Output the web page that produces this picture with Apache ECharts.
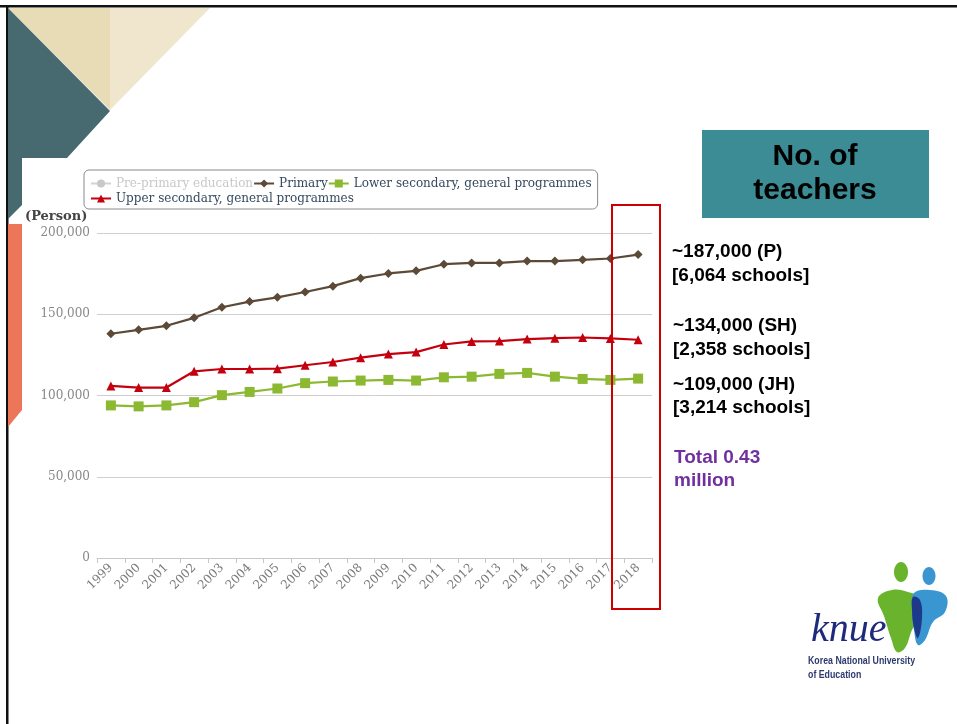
<!DOCTYPE html>
<html><head><meta charset="utf-8">
<script src="https://cdn.jsdelivr.net/npm/echarts@6/dist/echarts.min.js"></script>
<style>html,body{margin:0;padding:0;background:#fff}#c{width:957px;height:724px}</style>
</head><body><div id="c"></div>
<script>
const years = ['1999','2000','2001','2002','2003','2004','2005','2006','2007','2008','2009','2010','2011','2012','2013','2014','2015','2016','2017','2018'];
const prePrimary = [];
const primary = [138000,140400,142900,147800,154300,157800,160400,163700,167300,172200,175100,176700,180800,181600,181600,182700,182700,183500,184300,186700];
const lowerSecondary = [93900,93300,93900,95900,100200,102200,104300,107600,108600,109200,109600,109200,111200,111600,113300,113900,111600,110200,109600,110400];
const upperSecondary = [105900,104900,104900,114900,116300,116300,116500,118600,120600,123300,125500,126700,131400,133300,133500,134700,135300,135700,135100,134300];
const yMin = 0, yMax = 200000, yStep = 50000;
const seriesNames = ['Pre-primary education','Primary','Lower secondary, general programmes','Upper secondary, general programmes'];
const sideNotes = ['~187,000 (P)','[6,064 schools]','~134,000 (SH)','[2,358 schools]','~109,000 (JH)','[3,214 schools]'];
const totalNote = ['Total 0.43','million'];

const chart = echarts.init(document.getElementById('c'), null, {renderer:'canvas'});
const serif = 'DejaVu Serif';
function noteText(txt, x, yMid, color){
  return {type:'text', x:x, y:yMid, z:10,
    style:{text:txt, font:'bold 19px "Liberation Sans"', fill:color, verticalAlign:'middle'}};
}
const notePos = [252,276,326,350,385,408];
const graphics = [
  {type:'rect', shape:{x:0,y:5,width:957,height:2.5}, style:{fill:'#111'}, z:1},
  {type:'rect', shape:{x:6,y:5,width:2.5,height:719}, style:{fill:'#111'}, z:1},
  {type:'polygon', shape:{points:[[8,8],[110,8],[110,110]]}, style:{fill:'#e8dcb6'}, z:1},
  {type:'polygon', shape:{points:[[110,8],[210,8],[110,110]]}, style:{fill:'#efe6cd'}, z:1},
  {type:'polygon', shape:{points:[[8,8],[110,111],[67,158],[22,158],[22,205],[8,219]]}, style:{fill:'#466a6f'}, z:1},
  {type:'polygon', shape:{points:[[8,224],[22,224],[22,410],[8,427]]}, style:{fill:'#ec7659'}, z:1},
  {type:'rect', shape:{x:612,y:205,width:48,height:404}, style:{fill:'none', stroke:'#cc0000', lineWidth:2}, z:20},
  {type:'rect', shape:{x:702,y:130,width:227,height:88}, style:{fill:'#3b8c94'}, z:5},
  {type:'text', x:815, y:174, z:10,
    style:{text:'No. of\nteachers', align:'center', verticalAlign:'middle',
      font:'bold 30px "Liberation Sans"', lineHeight:34, fill:'#000'}},
  {type:'text', x:25, y:217, z:10, style:{text:'(Person)', font:'bold 13px "DejaVu Serif"', fill:'#444', verticalAlign:'middle'}},
  {type:'ellipse', shape:{cx:901,cy:572,rx:7,ry:10}, style:{fill:'#6ab42d'}, z:5},
  {type:'ellipse', shape:{cx:929,cy:576,rx:6.5,ry:9}, style:{fill:'#3a96d0'}, z:5},
  {type:'polygon', shape:{smooth:0.4, points:[[878,598],[892,590],[908,592],[920,598],[921,614],[912,630],[905,648],[897,652],[891,638],[884,616]]}, style:{fill:'#6ab42d'}, z:5},
  {type:'polygon', shape:{smooth:0.4, points:[[914,593],[930,590],[946,596],[945,612],[933,622],[925,640],[918,645],[914,630],[912,610]]}, style:{fill:'#3a96d0'}, z:6},
  {type:'polygon', shape:{smooth:0.4, points:[[913,597],[920,600],[922,618],[918,638],[914,628],[912,610]]}, style:{fill:'#1d3a8a'}, z:7},
  {type:'text', x:811, y:630, z:10, style:{text:'knue', font:'italic 40px "Liberation Serif"', fill:'#1e2a7c', verticalAlign:'middle'}},
  {type:'text', x:808, y:661, scaleX:0.8, z:10, style:{text:'Korea National University', font:'bold 11px "Liberation Sans"', fill:'#2e3a6e', verticalAlign:'middle'}},
  {type:'text', x:808, y:675, scaleX:0.8, z:10, style:{text:'of Education', font:'bold 11px "Liberation Sans"', fill:'#2e3a6e', verticalAlign:'middle'}}
];
sideNotes.forEach((t,i)=>graphics.push(noteText(t, i>=2?673:672, notePos[i], '#000')));
graphics.push(noteText(totalNote[0], 674, 458, '#7030a0'));
graphics.push(noteText(totalNote[1], 674, 481, '#7030a0'));

const colors = ['#bbbbbb','#5c4937','#8cb832','#c4000e'];
const symbols = ['circle','diamond','rect','triangle'];
const sizes = [8,9,10,9];
const dataSets = [prePrimary, primary, lowerSecondary, upperSecondary];

chart.setOption({
  animation:false,
  color: colors,
  textStyle:{fontFamily:serif},
  grid:{left:97, right:305, top:233, bottom:166, containLabel:false},
  legend:{
    data:seriesNames,
    left:84, top:170, width:540,
    orient:'horizontal', itemGap:0, itemWidth:20, itemHeight:10,
    padding:[6,6,3,6], borderColor:'#8a8a8a', borderWidth:1, borderRadius:5,
    inactiveColor:'#c8c8c8',
    textStyle:{fontFamily:serif, fontSize:12, lineHeight:15, color:'#34495e'},
    selected:{'Pre-primary education':false}
  },
  xAxis:{
    type:'category', data:years, boundaryGap:true,
    axisLine:{lineStyle:{color:'#c8c8c8'}},
    axisTick:{show:true, lineStyle:{color:'#c8c8c8'}},
    axisLabel:{rotate:45, interval:0, color:'#7a7a7a', fontFamily:serif, fontSize:12, margin:8}
  },
  yAxis:{
    type:'value', min:yMin, max:yMax, interval:yStep,
    axisLine:{show:false}, axisTick:{show:false},
    splitLine:{lineStyle:{color:'#cfcfcf', width:1}},
    axisLabel:{color:'#888', fontFamily:serif, fontSize:12, margin:7,
      formatter:v=>v.toLocaleString('en-US')}
  },
  series: seriesNames.map((n,i)=>({
    name:n, type:'line', data:dataSets[i], symbol:symbols[i], symbolSize:sizes[i],
    showAllSymbol:true,
    lineStyle:{width:2.2, color:colors[i]}, itemStyle:{color:colors[i]}
  })),
  graphic: graphics
});
</script></body></html>
